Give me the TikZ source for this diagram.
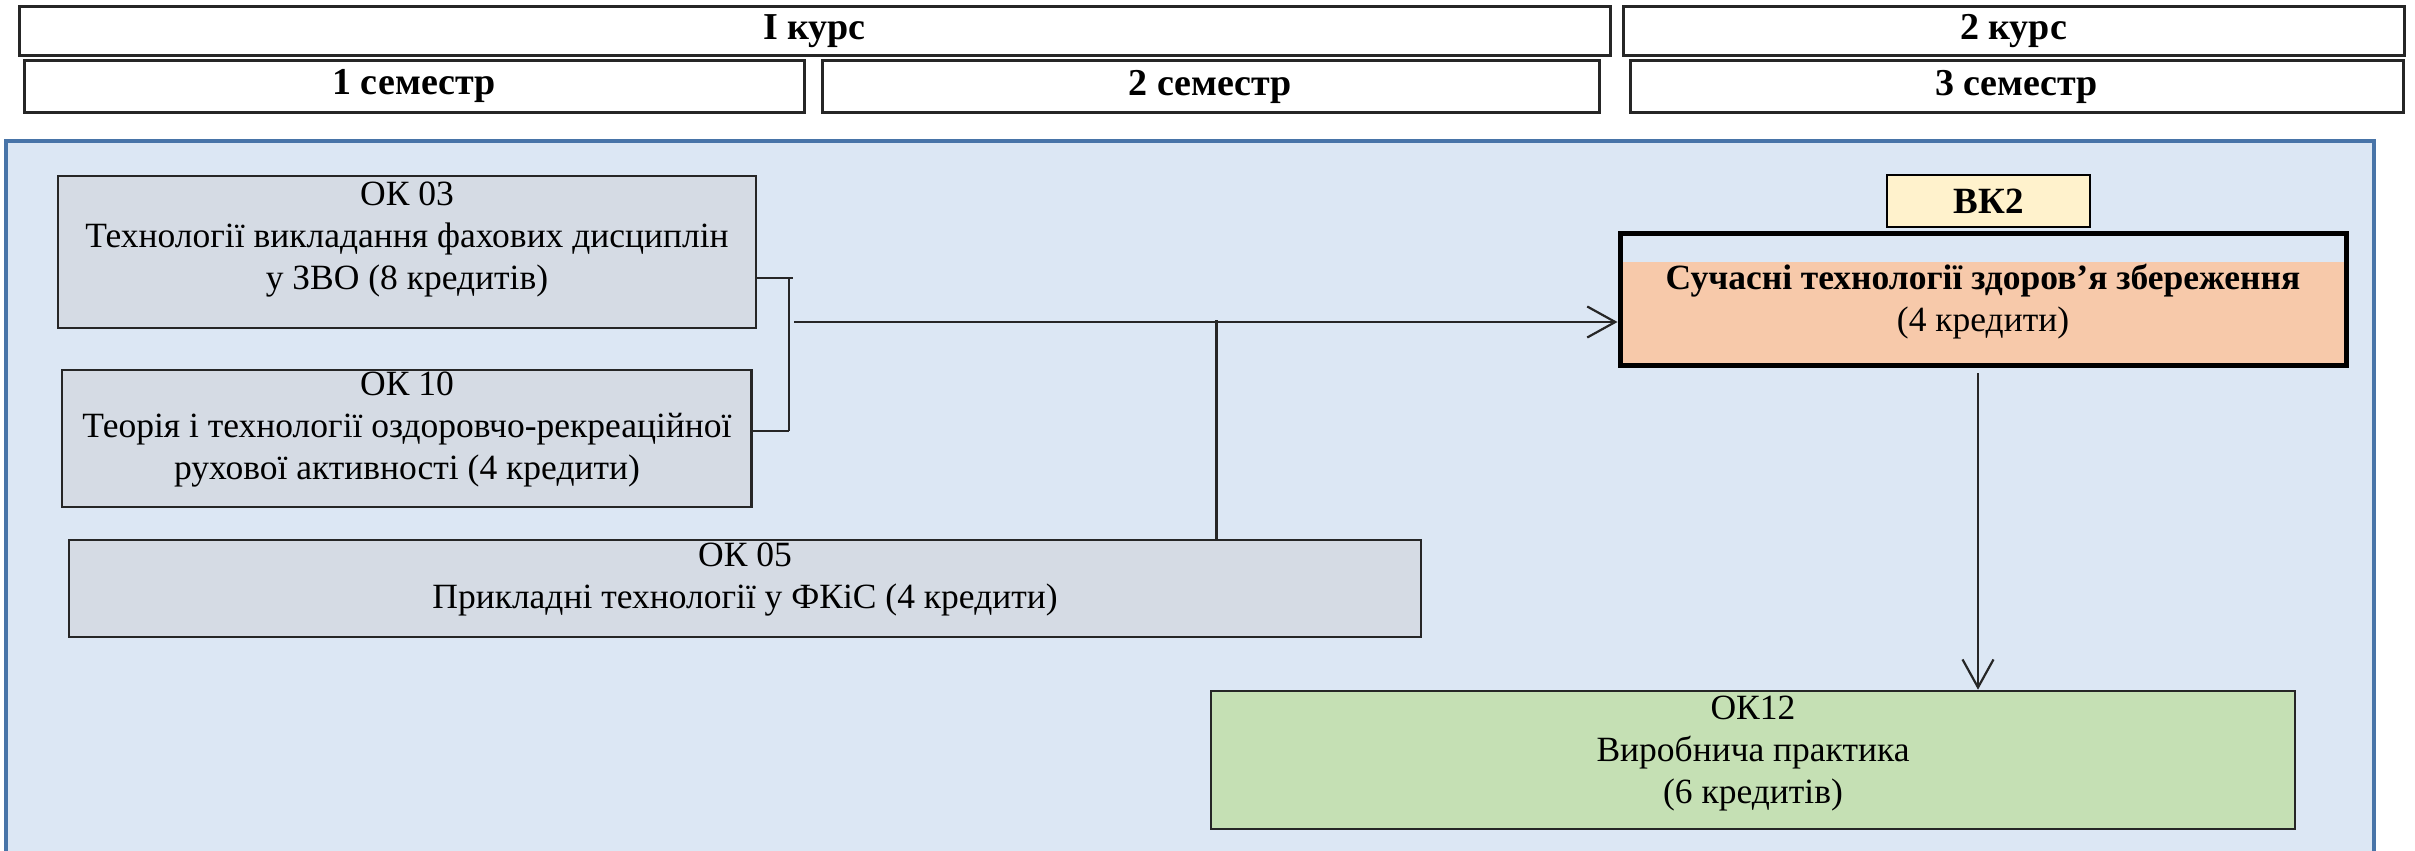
\documentclass[tikz,border=0pt]{standalone}
\usepackage{fontspec}
\setmainfont{Liberation Serif}
\usetikzlibrary{arrows.meta}
\definecolor{panelfill}{RGB}{220,231,244}
\definecolor{panelline}{RGB}{72,116,168}
\definecolor{boxgray}{RGB}{213,219,228}
\definecolor{boxorange}{RGB}{247,201,170}
\definecolor{boxgreen}{RGB}{197,224,180}
\definecolor{boxyellow}{RGB}{255,242,204}
\begin{document}
\begin{tikzpicture}[x=1pt,y=-1pt,
  hdr/.style={draw=black!85, line width=3pt, fill=white, inner sep=0pt,
    font=\fontsize{38}{44}\selectfont\bfseries},
  boxc/.style={draw=black!85, line width=2.6pt, inner sep=0pt},
  txt/.style={align=center, inner sep=0pt, font=\fontsize{35.5}{42}\selectfont},
  link/.style={draw=black!85, line width=2.4pt},
  arr/.style={link, -{Straight Barb[length=28pt,width=31pt,line width=2.2pt]}},
]
\useasboundingbox (0,0) rectangle (2415,851);
\fill[white] (0,0) rectangle (2415,851);

% headers
\node[hdr, minimum width=1591pt, minimum height=49.5pt] (hI) at (814.5,31.25) {I курс};
\node[hdr, minimum width=781pt, minimum height=49.5pt] (hII) at (2013.5,31.25) {2 курс};
\node[hdr, minimum width=780pt, minimum height=51pt] (s1) at (414,86.5) {1 семестр};
\node[hdr, minimum width=777pt, minimum height=51pt] (s2) at (1210.5,86.5) {2 семестр};
\node[hdr, minimum width=773pt, minimum height=51pt] (s3) at (2016.5,86.5) {3 семестр};

% panel
\draw[panelline, fill=panelfill, line width=4pt] (6,141) rectangle (2374,880);

% course boxes
\node[boxc, fill=boxgray, minimum width=698pt, minimum height=152pt] (ok03) at (407,252) {};
\node[txt] (t03) at (407,240)
  {ОК 03\\Технології викладання фахових дисциплін\\у ЗВО (8 кредитів)};
\node[boxc, fill=boxgray, minimum width=689.5pt, minimum height=137pt] (ok10) at (406.75,438.5) {};
\node[txt] (t10) at (407,429.5)
  {ОК 10\\Теорія і технології оздоровчо-рекреаційної\\рухової активності (4 кредити)};
\node[boxc, fill=boxgray, minimum width=1352pt, minimum height=97pt] (ok05) at (745,588.5) {};
\node[txt] (t05) at (745,579.5)
  {ОК 05\\Прикладні технології у ФКіС (4 кредити)};
\node[boxc, draw=black, line width=2.4pt, fill=boxyellow, minimum width=203pt, minimum height=52pt,
  font=\fontsize{37}{42}\selectfont\bfseries] (vk2) at (1988.5,201) {ВК2};
\node[boxc, draw=black, line width=5pt, fill=boxorange, minimum width=726pt, minimum height=132pt,
  path picture={\fill[panelfill] (path picture bounding box.north west) rectangle
    ([yshift=-29pt]path picture bounding box.north east);}] (such) at (1983,299) {};
\node[txt] (tsuch) at (1983,301.5)
  {\textbf{Сучасні технології здоров’я збереження}\\(4 кредити)};
\node[boxc, fill=boxgreen, minimum width=1084pt, minimum height=138pt] (ok12) at (1753,760) {};
\node[txt] (t12) at (1753,754)
  {ОК12\\Виробнича практика\\(6 кредитів)};

% connectors
\coordinate (b1) at (793,278);
\coordinate (b2) at (789,277);
\coordinate (b3) at (789,431);
\coordinate (m0) at (794,322);
\coordinate (m1) at (1216.5,320);
\coordinate (d0) at (1978,373);
\draw[link] (ok03.east |- b1) -- (b1);
\draw[link] (b2) -- (b3);
\draw[link] (ok10.east |- b3) -- (b3);
\draw[arr] (m0) -- (such.west |- m0);
\draw[link] (ok05.north -| m1) -- (m1);
\draw[arr] (d0) -- (ok12.north -| d0);
\end{tikzpicture}
\end{document}
